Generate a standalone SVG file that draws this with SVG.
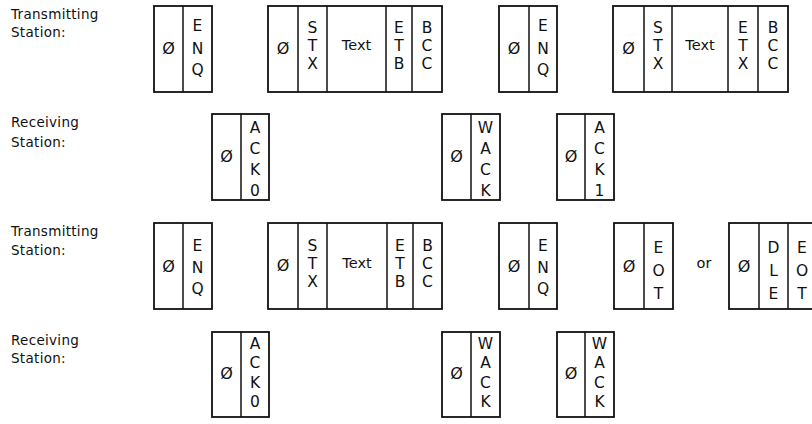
<svg xmlns="http://www.w3.org/2000/svg" width="812" height="424" viewBox="0 0 812 424">
<style>
  .box{fill:#fff;stroke:#111;stroke-width:1.8}
  .div{stroke:#111;stroke-width:1.5;fill:none}
  .lbl{font-family:"DejaVu Sans",sans-serif;font-size:13.5px;fill:#111;letter-spacing:0.3px}
  .ch{font-family:"DejaVu Sans",sans-serif;font-size:15.5px;fill:#111;text-anchor:middle}
  .tx{font-family:"DejaVu Sans",sans-serif;font-size:14.5px;fill:#111;text-anchor:middle}
  .z{font-family:"DejaVu Sans",sans-serif;font-size:16px;fill:#111;text-anchor:middle}
</style>
<rect width="812" height="424" fill="#fff"/>
<g id="connectors"/>
<g id="labels">
  <text class="lbl" x="11" y="19">Transmitting</text>
  <text class="lbl" x="11" y="37">Station:</text>
  <text class="lbl" x="11" y="127">Receiving</text>
  <text class="lbl" x="11" y="147">Station:</text>
  <text class="lbl" x="11" y="236">Transmitting</text>
  <text class="lbl" x="11" y="255">Station:</text>
  <text class="lbl" x="11" y="345">Receiving</text>
  <text class="lbl" x="11" y="363">Station:</text>
  <text class="tx" x="704" y="268">or</text>
</g>

<!-- Row 1 -->
<g id="r1-enq1">
  <rect class="box" x="154" y="6" width="58" height="86"/>
  <line class="div" x1="183" y1="6" x2="183" y2="92"/>
  <text class="z" x="168.5" y="54">Ø</text>
  <text class="ch" x="197.5" y="31">E</text><text class="ch" x="197.5" y="54">N</text><text class="ch" x="197.5" y="75">Q</text>
</g>
<g id="r1-stx1">
  <rect class="box" x="268" y="6" width="174" height="86"/>
  <line class="div" x1="298" y1="6" x2="298" y2="92"/>
  <line class="div" x1="327" y1="6" x2="327" y2="92"/>
  <line class="div" x1="386" y1="6" x2="386" y2="92"/>
  <line class="div" x1="412" y1="6" x2="412" y2="92"/>
  <text class="z" x="283" y="54">Ø</text>
  <text class="ch" x="312.5" y="32.5">S</text><text class="ch" x="312.5" y="50.5">T</text><text class="ch" x="312.5" y="68.5">X</text>
  <text class="tx" x="356.5" y="50">Text</text>
  <text class="ch" x="399" y="32.5">E</text><text class="ch" x="399" y="50.5">T</text><text class="ch" x="399" y="68.5">B</text>
  <text class="ch" x="427" y="32.5">B</text><text class="ch" x="427" y="50.5">C</text><text class="ch" x="427" y="68.5">C</text>
</g>
<g id="r1-enq2">
  <rect class="box" x="499" y="6" width="58" height="86"/>
  <line class="div" x1="529" y1="6" x2="529" y2="92"/>
  <text class="z" x="514" y="54">Ø</text>
  <text class="ch" x="543" y="31">E</text><text class="ch" x="543" y="54">N</text><text class="ch" x="543" y="75">Q</text>
</g>
<g id="r1-stx2">
  <rect class="box" x="613" y="6" width="175" height="86"/>
  <line class="div" x1="644" y1="6" x2="644" y2="92"/>
  <line class="div" x1="672" y1="6" x2="672" y2="92"/>
  <line class="div" x1="728" y1="6" x2="728" y2="92"/>
  <line class="div" x1="758" y1="6" x2="758" y2="92"/>
  <text class="z" x="628.5" y="54">Ø</text>
  <text class="ch" x="658" y="32.5">S</text><text class="ch" x="658" y="50.5">T</text><text class="ch" x="658" y="68.5">X</text>
  <text class="tx" x="700" y="50">Text</text>
  <text class="ch" x="743" y="32.5">E</text><text class="ch" x="743" y="50.5">T</text><text class="ch" x="743" y="68.5">X</text>
  <text class="ch" x="773" y="32.5">B</text><text class="ch" x="773" y="50.5">C</text><text class="ch" x="773" y="68.5">C</text>
</g>

<!-- Row 2 -->
<g id="r2-ack0">
  <rect class="box" x="212" y="114" width="57" height="86"/>
  <line class="div" x1="241" y1="114" x2="241" y2="200"/>
  <text class="z" x="226.5" y="162">Ø</text>
  <text class="ch" x="255" y="132.5">A</text><text class="ch" x="255" y="153.5">C</text><text class="ch" x="255" y="174.5">K</text><text class="ch" x="255" y="195.5">0</text>
</g>
<g id="r2-wack">
  <rect class="box" x="442" y="114" width="58" height="86"/>
  <line class="div" x1="471" y1="114" x2="471" y2="200"/>
  <text class="z" x="456.5" y="162">Ø</text>
  <text class="ch" x="485.5" y="132.5">W</text><text class="ch" x="485.5" y="153.5">A</text><text class="ch" x="485.5" y="174.5">C</text><text class="ch" x="485.5" y="195.5">K</text>
</g>
<g id="r2-ack1">
  <rect class="box" x="557" y="114" width="57" height="86"/>
  <line class="div" x1="585" y1="114" x2="585" y2="200"/>
  <text class="z" x="571" y="162">Ø</text>
  <text class="ch" x="599.5" y="132.5">A</text><text class="ch" x="599.5" y="153.5">C</text><text class="ch" x="599.5" y="174.5">K</text><text class="ch" x="599.5" y="195.5">1</text>
</g>

<!-- Row 3 -->
<g id="r3-enq1">
  <rect class="box" x="154" y="223" width="58" height="86"/>
  <line class="div" x1="183" y1="223" x2="183" y2="309"/>
  <text class="z" x="168.5" y="272">Ø</text>
  <text class="ch" x="197.5" y="251">E</text><text class="ch" x="197.5" y="273">N</text><text class="ch" x="197.5" y="294">Q</text>
</g>
<g id="r3-stx">
  <rect class="box" x="268" y="223" width="174" height="86"/>
  <line class="div" x1="298" y1="223" x2="298" y2="309"/>
  <line class="div" x1="327" y1="223" x2="327" y2="309"/>
  <line class="div" x1="387" y1="223" x2="387" y2="309"/>
  <line class="div" x1="413" y1="223" x2="413" y2="309"/>
  <text class="z" x="283" y="271">Ø</text>
  <text class="ch" x="312.5" y="251">S</text><text class="ch" x="312.5" y="269">T</text><text class="ch" x="312.5" y="287">X</text>
  <text class="tx" x="357" y="268">Text</text>
  <text class="ch" x="400" y="251">E</text><text class="ch" x="400" y="269">T</text><text class="ch" x="400" y="287">B</text>
  <text class="ch" x="427.5" y="251">B</text><text class="ch" x="427.5" y="269">C</text><text class="ch" x="427.5" y="287">C</text>
</g>
<g id="r3-enq2">
  <rect class="box" x="499" y="223" width="58" height="86"/>
  <line class="div" x1="529" y1="223" x2="529" y2="309"/>
  <text class="z" x="514" y="272">Ø</text>
  <text class="ch" x="543" y="251">E</text><text class="ch" x="543" y="273">N</text><text class="ch" x="543" y="294">Q</text>
</g>
<g id="r3-eot">
  <rect class="box" x="614" y="223" width="59" height="86"/>
  <line class="div" x1="644" y1="223" x2="644" y2="309"/>
  <text class="z" x="629" y="272">Ø</text>
  <text class="ch" x="658.5" y="252.5">E</text><text class="ch" x="658.5" y="275.5">O</text><text class="ch" x="658.5" y="298.5">T</text>
</g>
<g id="r3-dleeot">
  <rect class="box" x="729" y="223" width="88" height="86"/>
  <line class="div" x1="759" y1="223" x2="759" y2="309"/>
  <line class="div" x1="788" y1="223" x2="788" y2="309"/>
  <text class="z" x="744" y="272">Ø</text>
  <text class="ch" x="773.5" y="252.5">D</text><text class="ch" x="773.5" y="275.5">L</text><text class="ch" x="773.5" y="298.5">E</text>
  <text class="ch" x="802" y="252.5">E</text><text class="ch" x="802" y="275.5">O</text><text class="ch" x="802" y="298.5">T</text>
</g>

<!-- Row 4 -->
<g id="r4-ack0">
  <rect class="box" x="212" y="332" width="57" height="85"/>
  <line class="div" x1="241" y1="332" x2="241" y2="417"/>
  <text class="z" x="226.5" y="379">Ø</text>
  <text class="ch" x="255" y="349">A</text><text class="ch" x="255" y="368">C</text><text class="ch" x="255" y="387.5">K</text><text class="ch" x="255" y="407">0</text>
</g>
<g id="r4-wack1">
  <rect class="box" x="442" y="332" width="58" height="85"/>
  <line class="div" x1="471" y1="332" x2="471" y2="417"/>
  <text class="z" x="456.5" y="379">Ø</text>
  <text class="ch" x="485.5" y="349">W</text><text class="ch" x="485.5" y="368">A</text><text class="ch" x="485.5" y="387.5">C</text><text class="ch" x="485.5" y="407">K</text>
</g>
<g id="r4-wack2">
  <rect class="box" x="557" y="332" width="57" height="85"/>
  <line class="div" x1="585" y1="332" x2="585" y2="417"/>
  <text class="z" x="571" y="379">Ø</text>
  <text class="ch" x="599.5" y="349">W</text><text class="ch" x="599.5" y="368">A</text><text class="ch" x="599.5" y="387.5">C</text><text class="ch" x="599.5" y="407">K</text>
</g>
</svg>
